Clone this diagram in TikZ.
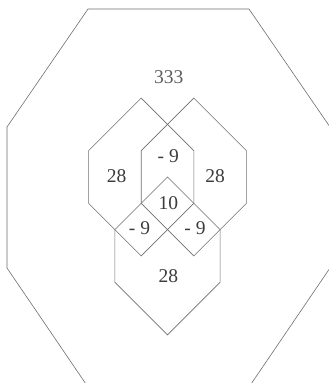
\documentclass[tikz,border=0pt]{standalone}
\usepackage{fontspec}
\setmainfont{Liberation Serif}
\definecolor{linegray}{HTML}{6E6E6E}
\definecolor{numgray}{HTML}{3C3C3C}
\definecolor{topgray}{HTML}{5E5E5E}
\begin{document}
\begin{tikzpicture}[x=1pt,y=-1pt]
\tikzset{
  outline/.style={draw=linegray, line width=0.6pt, line join=miter},
  num/.style={font=\fontsize{19.5}{20}\selectfont, text=numgray, inner sep=0pt},
}
\useasboundingbox (0,0) rectangle (329,383);
% outer octagon
\draw[outline] (88,9) -- (249,9) -- (330,127) -- (330,268) -- (249,387)
  -- (88,387) -- (7,268) -- (7,127) -- cycle;
% hexagons: half-width h, half vertical side v
\def\hh{52.6}
\def\vv{26.3}
\foreach \cx/\cy in {141.2/177, 193.8/177, 167.5/255.95}{
  \draw[outline] (\cx,\cy-\vv-\hh) -- (\cx+\hh,\cy-\vv) -- (\cx+\hh,\cy+\vv)
    -- (\cx,\cy+\vv+\hh) -- (\cx-\hh,\cy+\vv) -- (\cx-\hh,\cy-\vv) -- cycle;
}
% labels
\node[num, text=topgray] (outer) at (168.7,77) {333};
\node[num] (left) at (116.5,176) {28};
\node[num] (right) at (215,176) {28};
\node[num] (top) at (168.3,156) {- 9};
\node[num] (center) at (168.3,203.5) {10};
\node[num] (lowleft) at (139.5,228) {- 9};
\node[num] (lowright) at (195,228) {- 9};
\node[num] (bottom) at (168.3,276) {28};
\end{tikzpicture}
\end{document}
